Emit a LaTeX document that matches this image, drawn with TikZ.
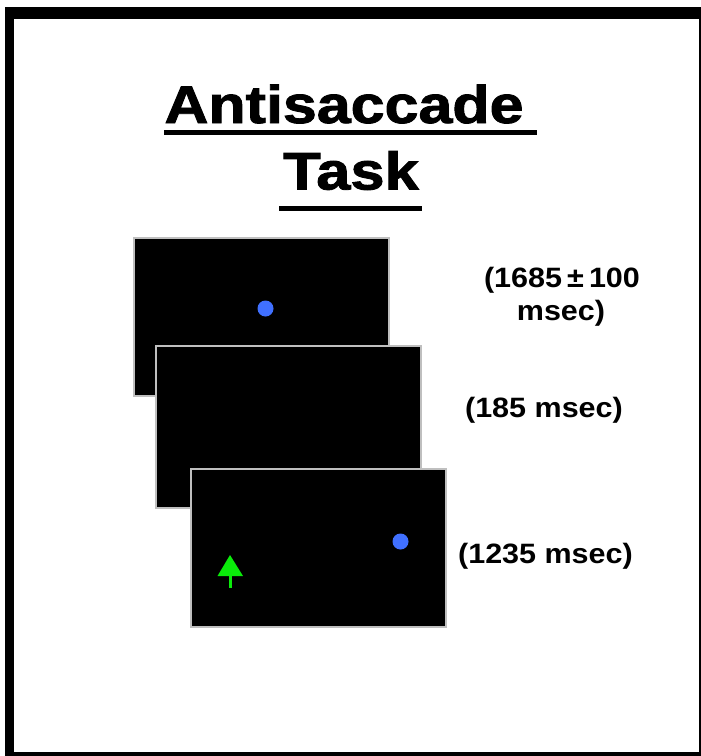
\documentclass[tikz,border=0pt]{standalone}
\usepackage{fontspec}
\setmainfont{Liberation Sans}
\newfontfamily\heavyfont[FakeBold=1.6]{Liberation Sans Bold}
\begin{document}
\begin{tikzpicture}[x=1pt,y=-1pt,
  screen/.style={draw=black!25,line width=1.6pt,fill=black,rectangle,
    anchor=north west,inner sep=0pt},
  target/.style={circle,fill=dotblue,inner sep=0pt,minimum size=16pt},
  title/.style={anchor=base,inner sep=0pt,font=\fontsize{53}{60}\selectfont\heavyfont},
  timing/.style={anchor=base,inner sep=0pt,font=\fontsize{28}{32}\selectfont\bfseries},
  rule/.style={line width=5pt}]
\definecolor{dotblue}{RGB}{64,112,255}
\definecolor{cuegreen}{RGB}{10,235,10}
\useasboundingbox (0,0) rectangle (701,756);
% outer frame
\fill[black] (5,7) rectangle (701,756);
\fill[white] (14,19) rectangle (699,752);
% title
\node[title] (t1) at (344,123) {\scalebox{1.15}[1]{Antisaccade}};
\node[title] (t2) at (351,189.5) {\scalebox{1.16}[1]{Task}};
\draw[rule] (164,132.5) -- (537,132.5);
\draw[rule] (279,208.5) -- (422,208.5);
% trial screens
\node[screen,minimum width=255pt,minimum height=158pt] (s1) at (133,237) {};
\node[target] (fix) at (265.5,308.5) {};
\node[screen,minimum width=265pt,minimum height=162pt] (s2) at (155,345) {};
\node[screen,minimum width=255pt,minimum height=158pt] (s3) at (190,468) {};
\node[target] (stim) at (400.5,541.5) {};
% response cue
\coordinate (tip) at (230,555);
\fill[cuegreen] (tip) -- (217.5,576) -- (243,576) -- cycle;
\draw[cuegreen,line width=3pt] (230,575) -- (230,587.5);
% durations
\node[timing] (d1a) at (562,287) {\scalebox{1.09}[1]{(1685\,±\,100}};
\node[timing] (d1b) at (561,320) {\scalebox{1.09}[1]{msec)}};
\node[timing] (d2) at (544,417) {\scalebox{1.09}[1]{(185 msec)}};
\node[timing] (d3) at (545.5,563) {\scalebox{1.09}[1]{(1235 msec)}};
\end{tikzpicture}
\end{document}
